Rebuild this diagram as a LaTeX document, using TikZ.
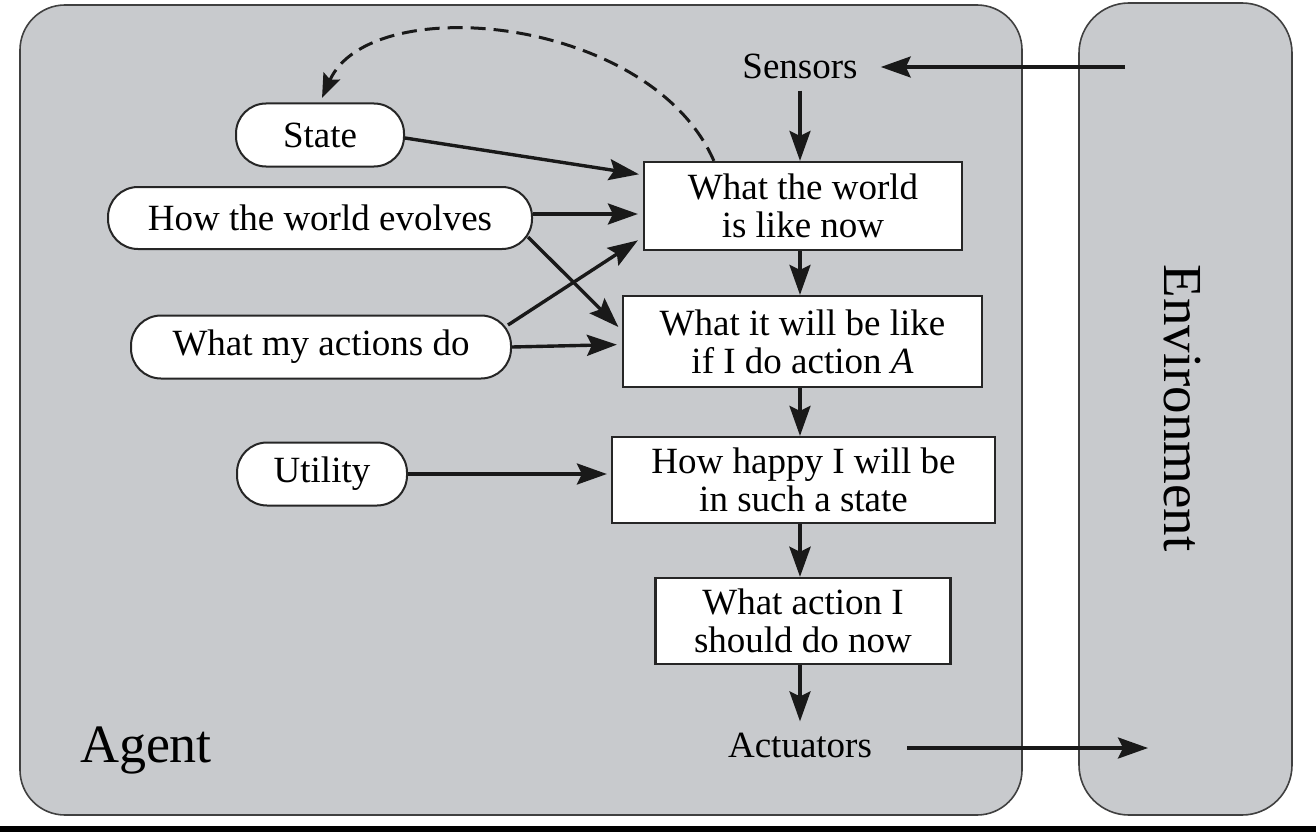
\documentclass[tikz,border=0pt]{standalone}
\usepackage{fontspec}
\setmainfont{Liberation Serif}
\usetikzlibrary{arrows.meta}
\definecolor{panel}{RGB}{200,202,205}
\begin{document}
\begin{tikzpicture}[x=1pt,y=-1pt,
  txt/.style={font=\fontsize{37}{38}\selectfont, text=black},
  box/.style={draw=black!85, line width=2.2pt, fill=white, txt, align=center, inner sep=0pt},
  pill/.style={draw=black!85, line width=2pt, fill=white, rounded corners=30pt, txt, inner sep=0pt},
  lbl/.style={txt, inner sep=11pt, anchor=base},
  arr/.style={line width=3.4pt, draw=black!90, -{Stealth[length=30pt,width=21pt,inset=5pt]}},
  dasharr/.style={line width=3pt, draw=black!90, dash pattern=on 15pt off 8pt, -{Stealth[length=24pt,width=18pt,inset=4pt]}},
  panelbox/.style={draw=black!75, line width=1.6pt, fill=panel}]
\useasboundingbox (0,0) rectangle (1316,832);
\fill[white] (0,0) rectangle (1316,832);
\fill[black] (0,826) rectangle (1316,832);
% panels
\draw[panelbox, rounded corners=45pt] (20,5) rectangle (1022,815);
\draw[panelbox, rounded corners=50pt] (1079,3) rectangle (1292,815);
% labels
\node[font=\fontsize{54}{55}\selectfont, text=black, anchor=base, inner sep=0pt] (agent) at (146,762) {Agent};
\node[font=\fontsize{55}{56}\selectfont, text=black, rotate=-90, inner sep=0pt] (envlabel) at (1182,408) {Environment};
\node[lbl] (sen) at (800,79) {Sensors};
\node[lbl] (act) at (800,757) {Actuators};
% boxes
\node[box, minimum width=318pt, minimum height=88pt] (b1) at (803,206) {What the world\\is like now};
\node[box, minimum width=359pt, minimum height=91pt] (b2) at (802.5,341.5) {What it will be like\\if I do action \textit{A}};
\node[box, minimum width=383pt, minimum height=86pt] (b3) at (803.5,480) {How happy I will be\\in such a state};
\node[box, minimum width=295pt, minimum height=86pt] (b4) at (803,621) {What action I\\should do now};
% pills
\node[pill, minimum width=168pt, minimum height=63pt] (state) at (320,135) {State};
\node[pill, minimum width=424pt, minimum height=62pt] (evol) at (320,218) {How the world evolves};
\node[pill, minimum width=380pt, minimum height=63pt] (acts) at (321,347) {What my actions do};
\node[pill, minimum width=170pt, minimum height=63pt] (util) at (322,474) {Utility};
% coordinates for environment ends
\coordinate (envin) at (1125,67);
\coordinate (envout) at (1148,748);
% vertical chain
\draw[arr] (sen.south) -- (sen.south |- b1.north);
\draw[arr] (b1.south -| sen) -- (b2.north -| sen);
\draw[arr] (b2.south -| sen) -- (b3.north -| sen);
\draw[arr, line width=4.5pt] (b3.south -| sen) -- (b4.north -| sen);
\draw[arr] (b4.south -| sen) -- (act.north);
% environment links
\draw[arr, shorten >=12pt] (envin) -- (envin -| sen.east);
\draw[arr, shorten <=24pt] (act.east |- envout) -- (envout);
% left-side inputs
\draw[arr, shorten >=4pt] ([yshift=-3pt]state.east) -- ([yshift=-14pt]b1.north west);
\coordinate (b1a) at ([yshift=-8pt]b1.west);
\draw[arr, shorten >=5pt] (evol.east |- b1a) -- (b1a);
\draw[arr, shorten >=5pt] ([xshift=-5pt,yshift=-19pt]evol.east) -- ([yshift=11pt]b2.west);
\draw[arr, shorten >=6pt] ([xshift=-4pt,yshift=22pt]acts.east) -- ([yshift=14pt]b1.south west);
\draw[arr, shorten >=5pt] (acts.east) -- ([yshift=-3pt]b2.west);
\draw[arr, shorten >=4pt] (util.east) -- (util.east -| b3.west);
% dashed feedback
\draw[dasharr, shorten >=5pt] ([xshift=71pt]b1.north west) .. controls (650,15) and (370,-10) .. (state.north);
\end{tikzpicture}
\end{document}
